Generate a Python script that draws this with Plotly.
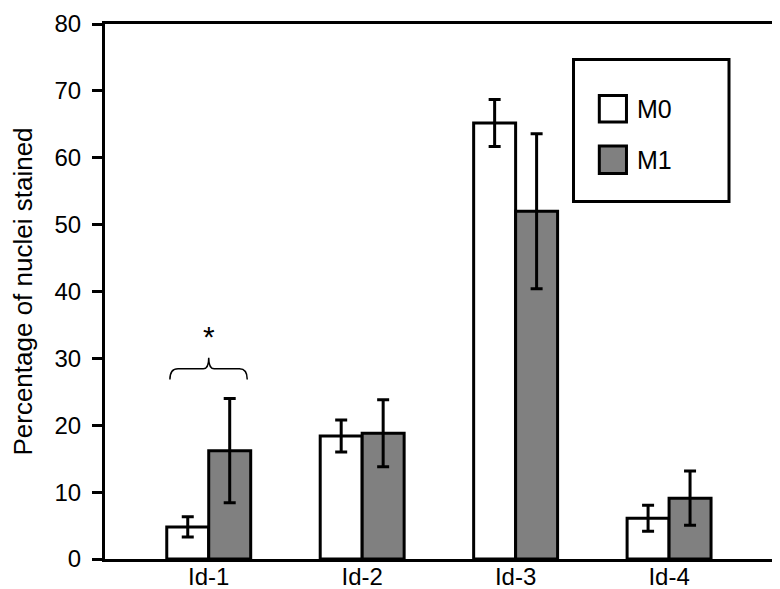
import plotly.graph_objects as go

categories = ["Id-1", "Id-2", "Id-3", "Id-4"]
m0_values = [4.8, 18.4, 65.2, 6.1]
m0_errors = [1.5, 2.4, 3.5, 1.95]
m1_values = [16.2, 18.8, 52.0, 9.1]
m1_errors = [7.8, 5.0, 11.6, 4.05]
y_ticks = [0, 10, 20, 30, 40, 50, 60, 70, 80]

xpos = list(range(len(categories)))
FONT = "Liberation Sans, Arial, sans-serif"

fig = go.Figure()
fig.add_trace(go.Bar(
    x=xpos, y=m0_values, name="M0",
    marker=dict(color="white", line=dict(color="black", width=3)),
    error_y=dict(type="data", array=m0_errors, visible=True,
                 color="black", thickness=3, width=6),
))
fig.add_trace(go.Bar(
    x=xpos, y=m1_values, name="M1",
    marker=dict(color="#808080", line=dict(color="black", width=3)),
    error_y=dict(type="data", array=m1_errors, visible=True,
                 color="black", thickness=3, width=6),
))

# significance brace over Id-1
fig.add_shape(type="path", xref="x", yref="y",
              path=("M -0.253,26.85 Q -0.253,28.45 -0.2,28.45 L -0.035,28.45 "
                    "Q 0,28.45 0,30.1 Q 0,28.45 0.035,28.45 L 0.2,28.45 "
                    "Q 0.251,28.45 0.251,26.85"),
              line=dict(color="black", width=1.5))
fig.add_annotation(x=0, y=33.3, xref="x", yref="y", text="*", showarrow=False,
                   font=dict(size=30, color="black", family=FONT))

# custom legend
fig.add_shape(type="rect", xref="paper", yref="paper",
              x0=0.690, x1=0.919, y0=0.668, y1=0.9335,
              line=dict(color="black", width=3), fillcolor="white")
fig.add_shape(type="rect", xref="paper", yref="paper",
              x0=0.728, x1=0.768, y0=0.817, y1=0.8665,
              line=dict(color="black", width=3), fillcolor="white")
fig.add_shape(type="rect", xref="paper", yref="paper",
              x0=0.728, x1=0.768, y0=0.7207, y1=0.772,
              line=dict(color="black", width=3), fillcolor="#808080")
fig.add_annotation(x=0.7807, y=0.8417, xref="paper", yref="paper", text="M0",
                   showarrow=False, xanchor="left", yanchor="middle",
                   font=dict(size=25, color="black", family=FONT))
fig.add_annotation(x=0.7807, y=0.7467, xref="paper", yref="paper", text="M1",
                   showarrow=False, xanchor="left", yanchor="middle",
                   font=dict(size=25, color="black", family=FONT))

fig.update_layout(
    width=780, height=589,
    margin=dict(l=97, r=4, t=16, b=38),
    paper_bgcolor="white", plot_bgcolor="white",
    barmode="group", bargap=0.453, bargroupgap=0,
    showlegend=False,
    font=dict(family=FONT, size=24, color="black"),
    xaxis=dict(range=[-0.676, 3.749], tickvals=xpos, ticktext=categories,
               showgrid=False, zeroline=False, showline=True, linecolor="black",
               linewidth=3, mirror=True, ticks="", tickfont=dict(size=24),
               ticklabelstandoff=-6, automargin=False),
    yaxis=dict(range=[0, 80], tickvals=y_ticks, showgrid=False, zeroline=False,
               showline=True, linecolor="black", linewidth=3, mirror=True,
               ticks="outside", ticklen=10, tickwidth=3, tickcolor="black",
               tickfont=dict(size=24), ticklabelstandoff=6, automargin=False,
               title=dict(text="Percentage of nuclei stained",
                          font=dict(size=26), standoff=40)),
)

fig.write_html("out.html")
